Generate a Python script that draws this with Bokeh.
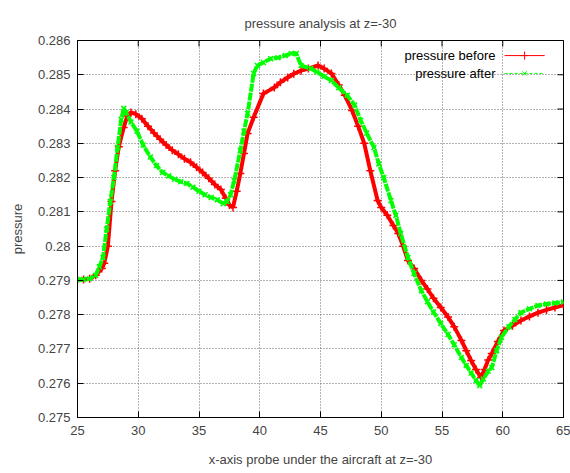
import math
from bokeh.plotting import figure
from bokeh.models import FixedTicker, CustomJSTickFormatter, Range1d
from bokeh.embed import file_html
from bokeh.resources import INLINE

# ---- data ----
before_x = [25.0, 25.5, 26.0, 26.5, 27.0, 27.2, 27.5, 27.8, 28.1, 28.4, 28.8, 29.1, 29.4, 29.8,
            30.3, 30.8, 31.3, 31.8, 32.3, 32.8, 33.3, 33.8, 34.3, 34.8, 35.3, 35.8, 36.3, 36.8,
            37.2, 37.5, 37.8, 38.1, 38.4, 38.7, 39.0, 39.5, 40.3, 41.2, 41.7, 42.3, 42.8, 43.4,
            44.0, 44.8, 45.3, 45.9, 46.5, 47.0, 47.6, 48.1, 48.6, 49.1, 49.7, 50.0, 50.5,
            51.0, 51.4, 51.8, 52.2, 52.7, 53.3, 53.8, 54.3, 54.9, 55.5, 56.0, 56.6, 57.0, 57.4,
            57.8, 58.2, 58.5, 58.8, 59.1, 59.6, 60.1, 60.8, 61.5, 62.2, 62.9, 63.6, 64.3, 65.0]
before_y = [0.27902, 0.27903, 0.27905, 0.27915, 0.27935, 0.2795, 0.2800, 0.2813, 0.2822, 0.2829,
            0.28346, 0.2838, 0.2839, 0.28385, 0.28372, 0.2835, 0.2833, 0.28312, 0.28295, 0.2828,
            0.28268, 0.28255, 0.28245, 0.2823, 0.28215, 0.28198, 0.2818, 0.28165, 0.2814, 0.2812,
            0.28113, 0.2816, 0.28212, 0.2827, 0.28329, 0.28376, 0.28445, 0.28463, 0.28478, 0.28492,
            0.28503, 0.28512, 0.28518, 0.28527, 0.28518, 0.28504, 0.2847, 0.2844, 0.28396, 0.2835,
            0.283, 0.2822, 0.28133, 0.28113, 0.2809, 0.2806, 0.28037, 0.28, 0.27958, 0.27935,
            0.279, 0.27875, 0.27848, 0.27821, 0.27793, 0.27765, 0.27725, 0.27695, 0.27666,
            0.2764, 0.27617, 0.2764, 0.27668, 0.27687, 0.27722, 0.27754, 0.27768, 0.27783, 0.27795,
            0.27806, 0.27814, 0.27821, 0.27828]

after_x = [25.0, 25.5, 26.0, 26.5, 26.8, 27.1, 27.4, 27.7, 28.0, 28.3, 28.6, 28.8, 29.0, 29.4,
           29.9, 30.4, 31.0, 31.5, 32.0, 32.5, 33.0, 33.5, 34.0, 34.5, 35.0, 35.5, 36.0, 36.5,
           37.0, 37.3, 37.6, 37.9, 38.4, 38.7, 39.0, 39.5, 39.8, 40.3, 40.9, 41.5, 42.1, 42.6,
           43.0, 43.4, 44.2, 44.7, 45.3, 45.9, 46.5, 47.2, 47.8, 48.3, 48.8, 49.4, 49.8, 50.2,
           50.8, 51.2, 51.6, 52.2, 52.7, 53.3, 53.8, 54.3, 54.9, 55.5, 56.0, 56.6, 57.0, 57.4,
           57.8, 58.1, 58.4, 58.8, 59.1, 59.5, 59.9, 60.5, 61.0, 61.5, 62.2, 62.9, 63.6, 64.3, 65.0]
after_y = [0.27902, 0.27903, 0.27905, 0.27915, 0.2794, 0.27967, 0.2805, 0.2813, 0.2820, 0.28288,
           0.2837, 0.28402, 0.2839, 0.28362, 0.28335, 0.28295, 0.2826, 0.28235, 0.28215, 0.28205,
           0.28195, 0.28188, 0.28183, 0.28172, 0.2816, 0.2815, 0.28142, 0.28135, 0.28124, 0.2813,
           0.2815, 0.28191, 0.28279, 0.28335, 0.28387, 0.28504, 0.28527, 0.28536, 0.28547, 0.2855,
           0.28556, 0.28562, 0.28562, 0.28527, 0.28518, 0.28508, 0.28495, 0.28483, 0.28462, 0.2844,
           0.28412, 0.28367, 0.2833, 0.28288, 0.2824, 0.282, 0.28133, 0.2809, 0.28037, 0.27967,
           0.2792, 0.2787, 0.27838, 0.27808, 0.27774, 0.27742, 0.27712, 0.27675, 0.27652, 0.2763,
           0.27608, 0.27593, 0.27612, 0.27635, 0.27646, 0.27695, 0.27734, 0.27765, 0.27786, 0.27806,
           0.27817, 0.27827, 0.27831, 0.27834, 0.27837]

x_ticks = [25, 30, 35, 40, 45, 50, 55, 60, 65]
y_ticks = [0.275, 0.276, 0.277, 0.278, 0.279, 0.28, 0.281, 0.282, 0.283, 0.284, 0.285, 0.286]
series_names = ["pressure before", "pressure after"]
title_text = "pressure analysis at z=-30"
x_label = "x-axis probe under the aircraft at z=-30"
y_label = "pressure"

FONT = "Liberation Sans"
RED = "#ff0000"
GREEN = "#00ff00"
X0, X1, Y0, Y1 = 25, 65, 0.275, 0.286

p = figure(width=570, height=473, output_backend="svg", toolbar_location=None,
           x_range=Range1d(X0, X1), y_range=Range1d(Y0, Y1),
           min_border_left=77, min_border_right=7, min_border_top=40, min_border_bottom=56)
p.title.text = title_text
p.title.align = "center"
p.title.text_font = FONT
p.title.text_font_size = "13px"
p.title.text_font_style = "normal"
p.title.standoff = 20

p.outline_line_color = "black"
p.outline_line_width = 1
p.background_fill_color = "white"
p.border_fill_color = "white"

def style_axis(ax):
    ax.major_tick_in = 6
    ax.major_tick_out = 0
    ax.minor_tick_line_color = None
    ax.axis_line_color = "black"
    ax.major_tick_line_color = "black"
    ax.major_label_text_font = FONT
    ax.major_label_text_font_size = "13px"
    ax.axis_label_text_font = FONT
    ax.axis_label_text_font_size = "13px"
    ax.axis_label_text_font_style = "normal"

xa = p.xaxis[0]
xa.ticker = FixedTicker(ticks=x_ticks)
xa.axis_label = x_label
xa.major_label_standoff = 8
xa.axis_label_standoff = 14
style_axis(xa)

ya = p.yaxis[0]
ya.ticker = FixedTicker(ticks=y_ticks)
ya.formatter = CustomJSTickFormatter(code="return String(parseFloat(tick.toFixed(4)));")
ya.axis_label = y_label
ya.major_label_standoff = 7
ya.axis_label_standoff = 10
style_axis(ya)

p.xgrid.ticker = FixedTicker(ticks=x_ticks)
p.ygrid.ticker = FixedTicker(ticks=y_ticks)
for g in (p.xgrid[0], p.ygrid[0]):
    g.grid_line_color = "#666666"
    g.grid_line_dash = "1 2"
    g.grid_line_width = 1

# mirrored inward ticks on the top and right frame edges (clipped to the frame)
p.scatter(x_ticks, [Y1] * len(x_ticks), marker="dash", angle=math.pi / 2, size=12,
          line_color="black", line_width=1)
p.scatter([X1] * len(y_ticks), y_ticks, marker="dash", size=12,
          line_color="black", line_width=1)

# series (thick band like gnuplot's densely packed point markers)
p.line(before_x, before_y, line_color=RED, line_width=4)
p.scatter(before_x, before_y, marker="cross", size=8, line_color=RED, line_width=1.5)
p.line(after_x, after_y, line_color=GREEN, line_width=4, line_dash="8 1")
p.scatter(after_x, after_y, marker="x", size=7, line_color=GREEN, line_width=1.5)

# gnuplot-style key (text right-aligned, sample to the right)
leg_y = [0.28556, 0.28504]
leg_x0, leg_x1, leg_xm, leg_tx = 60.15, 63.45, 61.8, 59.4
p.text(x=[leg_tx, leg_tx], y=leg_y, text=series_names, text_align="right",
       text_baseline="middle", text_font_size="13px", text_color="black",
       text_font={"value": FONT})
p.line([leg_x0, leg_x1], [leg_y[0], leg_y[0]], line_color=RED, line_width=1)
p.scatter([leg_xm], [leg_y[0]], marker="cross", size=8, line_color=RED)
p.line([leg_x0, leg_x1], [leg_y[1], leg_y[1]], line_color=GREEN, line_width=1, line_dash="3 2")
p.scatter([leg_xm], [leg_y[1]], marker="x", size=6, line_color=GREEN)

open("out.html", "w").write(file_html(p, INLINE))
